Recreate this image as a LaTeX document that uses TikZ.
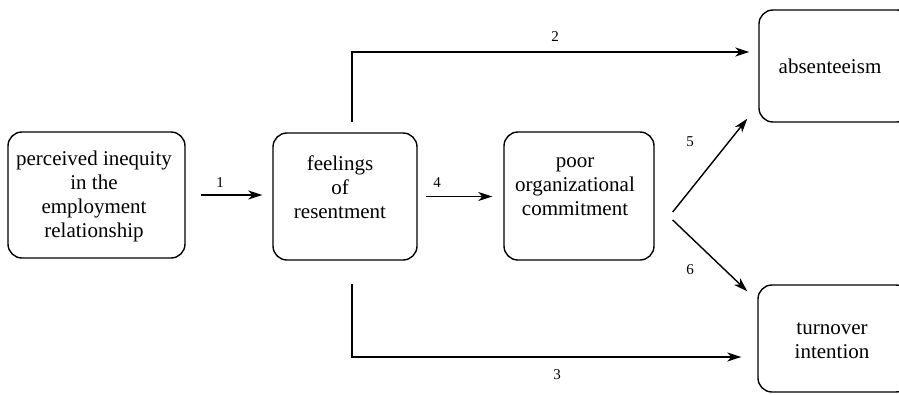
\documentclass[tikz,border=0pt]{standalone}
\usepackage{fontspec}
\setmainfont{Liberation Serif}
\usetikzlibrary{arrows.meta}
\tikzset{
  box/.style={draw, line width=1.4pt, rounded corners=14pt, inner sep=0pt},
  txt/.style={align=center, inner sep=0pt, font=\fontsize{21}{24}\selectfont},
  lab/.style={inner sep=0pt, font=\fontsize{15}{18}\selectfont},
  arr/.style={line width=1.4pt, -{Stealth[length=14pt,width=9pt,inset=4pt]}},
  ln/.style={line width=1.4pt}
}
\begin{document}
\begin{tikzpicture}[x=1pt,y=-1pt]
\useasboundingbox (0,0) rectangle (899,394);
% boxes
\node[box, minimum width=177pt, minimum height=126pt] (b1) at (96.5,195) {};
\node[box, minimum width=144pt, minimum height=127pt] (b2) at (345,196.5) {};
\node[box, minimum width=150pt, minimum height=128pt] (b3) at (579,196) {};
\node[box, minimum width=152pt, minimum height=112pt] (ab) at (835,66) {};
\node[box, minimum width=152pt, minimum height=107pt] (tv) at (834,338.5) {};
% texts
\node[txt] (t1) at (94,196) {perceived inequity\\in the\\employment\\relationship};
\node[txt] (t2) at (340,187) {feelings\\of\\resentment};
\node[txt] (t3) at (575,187) {poor\\organizational\\commitment};
\node[txt] (t4) at (830,66) {absenteeism};
\node[txt] (t5) at (832,341) {turnover\\intention};
% connectors
\draw[arr] ([xshift=15pt]b1.east) -- ([xshift=-10pt]b1.east -| b2.west);
\draw[arr] ([xshift=8pt]b2.east) -- ([xshift=-11pt]b2.east -| b3.west);
\draw[arr] ([xshift=7pt,yshift=10pt]b2.north) |- ([xshift=-9pt,yshift=14pt]ab.west);
\draw[arr] ([xshift=7pt,yshift=-23pt]b2.south) |- ([xshift=-16pt,yshift=-18.5pt]tv.west);
\draw[arr] ([xshift=18pt,yshift=-16pt]b3.east) -- ([xshift=-11pt,yshift=4pt]ab.south west);
\draw[arr] ([xshift=18pt,yshift=-24pt]b3.east) -- ([xshift=-10pt,yshift=-7pt]tv.north west);
% labels
\node[lab] (l1) at (220,183) {1};
\node[lab] (l2) at (555,37) {2};
\node[lab] (l3) at (557,375) {3};
\node[lab] (l4) at (437,183) {4};
\node[lab] (l5) at (690,142) {5};
\node[lab] (l6) at (690,270) {6};
\end{tikzpicture}
\end{document}
